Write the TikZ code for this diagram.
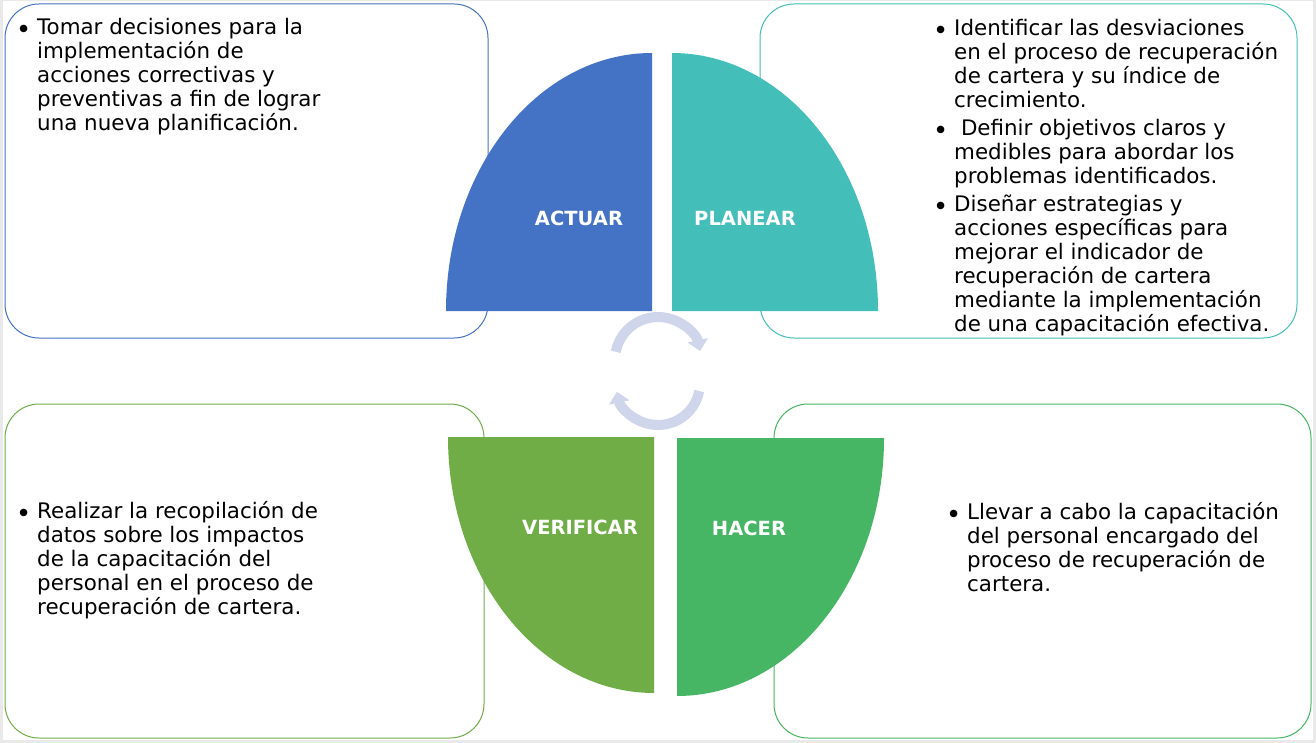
\documentclass[tikz,border=0pt]{standalone}
\usepackage{graphicx}
\usepackage{fontspec}
\setmainfont{DejaVu Sans}
\usetikzlibrary{arrows.meta}

% Bullet line with hanging indent
\newcommand{\pdcaItem}[1]{\par\noindent\hangindent=20pt\hangafter=1\hbox to 20pt{\hskip-1pt\raisebox{-4pt}{\scalebox{1.2}{\textbullet}}\hfil}#1\par}

\begin{document}
\begin{tikzpicture}[x=1pt, y=-1pt,
    descText/.style={anchor=base west, inner sep=0pt, font=\fontsize{21.4}{24}\selectfont, text=black},
    phaseLabel/.style={inner sep=0pt, font=\fontsize{19.5}{23}\selectfont\bfseries, text=white},
    phaseBox/.style={fill=white, line width=1pt, rounded corners=34pt},
    cycleArrow/.style={draw=arrowColour, line width=10pt, -{Triangle[width=20pt,length=11pt]}}]
    % Define colours
    \definecolor{frameColour}{HTML}{E9E9E9}
    \definecolor{actuarColour}{HTML}{4472C4}
    \definecolor{planearColour}{HTML}{44BEB8}
    \definecolor{verificarColour}{HTML}{70AD47}
    \definecolor{hacerColour}{HTML}{46B564}
    \definecolor{arrowColour}{HTML}{CFD5EA}

    % Slide background
    \useasboundingbox (0,0) rectangle (1316,743);
    \fill[frameColour] (0,0) rectangle (1316,743);
    \fill[white] (3,1) rectangle (1313,740);

    % Draw text boxes
    \draw[phaseBox, draw=actuarColour] (5,4) rectangle (488,338);
    \draw[phaseBox, draw=planearColour] (760,4) rectangle (1297,338);
    \draw[phaseBox, draw=verificarColour] (5,404) rectangle (484,738);
    \draw[phaseBox, draw=hacerColour] (774,404) rectangle (1311,738);

    % Draw quarter shapes
    \fill[actuarColour] (652,311) -- (446,311) arc[start angle=180, end angle=270, x radius=206, y radius=258] -- cycle;
    \fill[planearColour] (672,311) -- (672,53) arc[start angle=270, end angle=360, x radius=206, y radius=258] -- cycle;
    \fill[verificarColour] (654,437) -- (448,437) arc[start angle=180, end angle=90, x radius=206, y radius=256] -- cycle;
    \fill[hacerColour] (677,438) -- (884,438) arc[start angle=0, end angle=90, x radius=207, y radius=258] -- cycle;

    % Phase labels
    \node[phaseLabel] (actuar) at (579,218) {ACTUAR};
    \node[phaseLabel] (planear) at (745,218) {PLANEAR};
    \node[phaseLabel] (verificar) at (580,527) {VERIFICAR};
    \node[phaseLabel] (hacer) at (749,528) {HACER};

    % Circular arrows
    \draw[cycleArrow] (658,360) ++(191:43) arc[start angle=191, end angle=348, radius=43];
    \draw[cycleArrow] (658,383) ++(11:42) arc[start angle=11, end angle=168, radius=42];

    % Descriptions
    \node[descText] (actuarText) at (17,35) {\parbox[t]{360pt}{%
        \pdcaItem{Tomar decisiones para la\\ implementación de\\ acciones correctivas y\\ preventivas a fin de lograr\\ una nueva planificación.}}};
    \node[descText] (planearText) at (934,36) {\parbox[t]{370pt}{\setlength{\parskip}{4pt}%
        \pdcaItem{Identificar las desviaciones\\ en el proceso de recuperación\\ de cartera y su índice de\\ crecimiento.}
        \pdcaItem{\ Definir objetivos claros y\\ medibles para abordar los\\ problemas identificados.}
        \pdcaItem{Diseñar estrategias y\\ acciones específicas para\\ mejorar el indicador de\\ recuperación de cartera\\ mediante la implementación\\ de una capacitación efectiva.}}};
    \node[descText] (verificarText) at (17,518) {\parbox[t]{360pt}{%
        \pdcaItem{Realizar la recopilación de\\ datos sobre los impactos\\ de la capacitación del\\ personal en el proceso de\\ recuperación de cartera.}}};
    \node[descText] (hacerText) at (947,519) {\parbox[t]{360pt}{%
        \pdcaItem{Llevar a cabo la capacitación\\ del personal encargado del\\ proceso de recuperación de\\ cartera.}}};
\end{tikzpicture}
\end{document}
